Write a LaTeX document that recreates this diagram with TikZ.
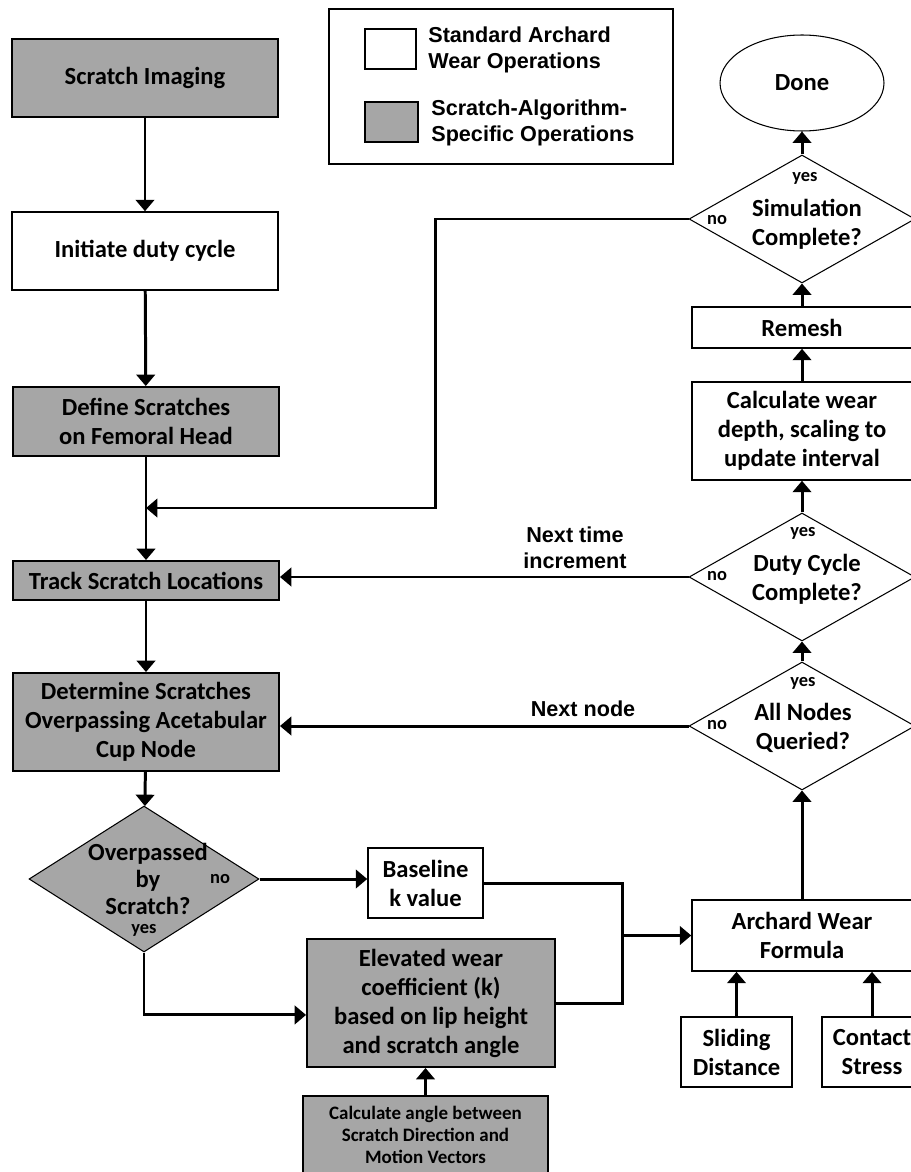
\documentclass[tikz,border=0pt]{standalone}
\usepackage{fontspec}
\setmainfont{Carlito}
\newfontfamily\arialfont{Liberation Sans}
\usepackage{tikz}
\usetikzlibrary{shapes, arrows.meta, calc, positioning}
\definecolor{scratchgray}{RGB}{166,166,166}

\tikzset{
  stdbox/.style={draw, line width=0.9pt, fill=white, align=center, inner sep=0pt, font=\bfseries\fontsize{14}{16.5}\selectfont},
  scrbox/.style={stdbox, fill=scratchgray, line width=1.1pt},
  decision/.style={draw, diamond, line width=0.6pt, fill=white, inner sep=0pt, minimum width=4.52cm, minimum height=2.56cm},
  dectext/.style={align=center, inner sep=0pt, font=\bfseries\fontsize{14}{16.5}\selectfont},
  yesno/.style={inner sep=0pt, font=\bfseries\fontsize{10.5}{12}\selectfont},
  flow/.style={line width=1.7pt, -{Triangle[width=10.5pt,length=6.5pt]}},
  wire/.style={line width=1.7pt},
  legtext/.style={anchor=west, align=left, inner sep=0pt, font=\arialfont\bfseries\fontsize{12.3}{14.7}\selectfont}
}

\begin{document}
\begin{tikzpicture}[x=0.02cm, y=-0.02cm]
\useasboundingbox (0,0) rectangle (911,1172);
\clip (0,0) rectangle (911,1172);

% legend
\draw[line width=1.1pt] (329,9) rectangle (673,164);
\draw[line width=0.9pt] (365,29) rectangle (416,69);
\draw[line width=0.9pt, fill=scratchgray] (365,102) rectangle (418,142);
\node[legtext] (legstd) at (428,50) {Standard Archard\\Wear Operations};
\node[legtext] (legscr) at (431,123) {Scratch-Algorithm-\\Specific Operations};

% left column
\node[scrbox, minimum width=5.32cm, minimum height=1.56cm] (img) at (145,78) {Scratch Imaging};
\node[stdbox, minimum width=5.32cm, minimum height=1.56cm] (init) at (145,251) {Initiate duty cycle};
\node[scrbox, minimum width=5.32cm, minimum height=1.38cm] (define) at (146,421.5) {Define Scratches\\on Femoral Head};
\node[scrbox, minimum width=5.32cm, minimum height=0.78cm] (track) at (146,580.5) {Track Scratch Locations};
\node[scrbox, minimum width=5.32cm, minimum height=1.96cm] (determ) at (146,722) {Determine Scratches\\Overpassing Acetabular\\Cup Node};

\node[decision, fill=scratchgray, minimum width=4.6cm, minimum height=2.92cm] (ovp) at (144,879) {};
\node[dectext, font=\bfseries\fontsize{14}{15.6}\selectfont] (ovptxt) at (148,879) {Overpassed\\by\\Scratch?};
\node[yesno] (ovpyes) at (144,930) {yes};
\node[yesno] (ovpno) at (220,879) {no};

% k value
\node[stdbox, minimum width=2.3cm, minimum height=1.4cm] (base) at (425.5,883) {Baseline\\k value};
\node[scrbox, minimum width=4.96cm, minimum height=2.56cm] (elev) at (431,1003) {Elevated wear\\coefficient (k)\\based on lip height\\and scratch angle};
\node[scrbox, minimum width=4.9cm, minimum height=1.56cm, font=\bfseries\fontsize{10.8}{12.6}\selectfont] (angle) at (425.5,1135) {Calculate angle between\\Scratch Direction and\\Motion Vectors};

% right column
\node[draw, ellipse, line width=0.6pt, minimum width=3.28cm, minimum height=1.92cm, inner sep=0pt, font=\bfseries\fontsize{14}{16.5}\selectfont] (done) at (802,83) {Done};

\node[decision] (sim) at (802,219) {};
\node[dectext] (simtxt) at (807,224) {Simulation\\Complete?};
\node[yesno] (simyes) at (805,178) {yes};
\node[yesno] (simno) at (717,220) {no};

\node[stdbox, minimum width=4.4cm, minimum height=0.82cm] (remesh) at (802,327.5) {Remesh};
\node[stdbox, minimum width=4.4cm, minimum height=1.96cm] (calcw) at (802,431) {Calculate wear\\depth, scaling to\\update interval};

\node[decision] (duty) at (802,577) {};
\node[dectext] (dutytxt) at (807,579) {Duty Cycle\\Complete?};
\node[yesno] (dutyyes) at (803,533) {yes};
\node[yesno] (dutyno) at (717,576) {no};

\node[decision] (alln) at (802,726) {};
\node[dectext] (allntxt) at (803,728) {All Nodes\\Queried?};
\node[yesno] (allnyes) at (803,683) {yes};
\node[yesno] (allnno) at (717,725) {no};

\node[stdbox, minimum width=4.4cm, minimum height=1.42cm] (arch) at (802,935.5) {Archard Wear\\Formula};
\node[stdbox, minimum width=2.22cm, minimum height=1.4cm] (slide) at (736.5,1052) {Sliding\\Distance};
\node[stdbox, minimum width=2.0cm, minimum height=1.4cm] (contact) at (872,1052) {Contact\\Stress};

% loop labels
\node[legtext, anchor=center, align=center] (nexttime) at (575,548) {Next time\\increment};
\node[legtext, anchor=center] (nextnode) at (583,709) {Next node};

% helper points
\coordinate (merge) at (146,508);
\coordinate (loopx) at (435,508);
\coordinate (join) at (622,935.5);

% connectors
\draw[flow] (img) -- (init);
\draw[flow] (init) -- (define);
\draw[wire] (define) -- (merge);
\draw[flow] (merge) -- (track);
\draw[flow] (sim.west) -| (loopx) -- (merge);
\draw[flow] (track) -- (determ);
\draw[flow] (determ) -- (ovp);
\draw[flow] (ovp.east) -- (ovp.east -| base.west);
\draw[flow] (ovp.south) |- ([yshift=-6.8pt]elev.west);
\draw[wire] (base.east) -| (join);
\draw[wire] (elev.east) -| (join);
\draw[flow] (join) -- (arch.west);
\draw[flow] (angle.north) -- (angle.north |- elev.south);
\draw[flow] (slide.north) -- (slide.north |- arch.south);
\draw[flow] (contact.north) -- (contact.north |- arch.south);
\draw[flow] (arch.north) -- (alln.south);
\draw[flow] (alln.west) -- (alln.west -| determ.east);
\draw[flow] (alln.north) -- (duty.south);
\draw[flow] (duty.west) -- (duty.west -| track.east);
\draw[flow] (duty.north) -- (calcw.south);
\draw[flow] (calcw.north) -- (remesh.south);
\draw[flow] (remesh.north) -- (sim.south);
\draw[flow] (sim.north) -- (done.south);

\end{tikzpicture}
\end{document}
